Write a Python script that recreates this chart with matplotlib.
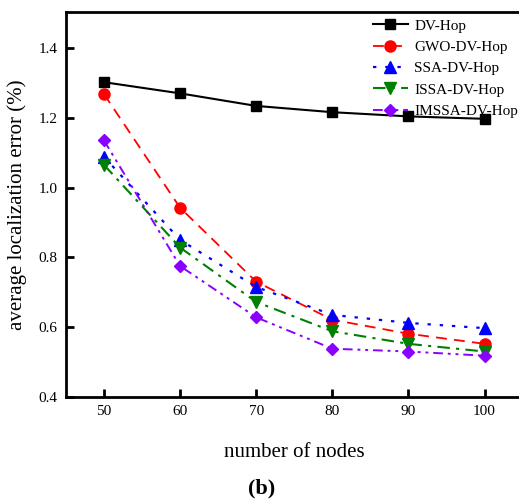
import numpy as np
import matplotlib.pyplot as plt

plt.rcParams['font.family'] = ['Liberation Serif', 'DejaVu Serif']

# Data
nodes = [50, 60, 70, 80, 90, 100]
dv_hop = [1.302, 1.270, 1.234, 1.216, 1.204, 1.197]
gwo_dv_hop = [1.268, 0.942, 0.730, 0.621, 0.581, 0.552]
ssa_dv_hop = [1.088, 0.850, 0.715, 0.635, 0.612, 0.597]
issa_dv_hop = [1.065, 0.828, 0.672, 0.588, 0.552, 0.530]
imssa_dv_hop = [1.135, 0.775, 0.628, 0.538, 0.530, 0.518]

fig = plt.figure(figsize=(5.19, 5.03), dpi=100)
ax = fig.add_axes([0.127, 0.211, 0.88, 0.765])

ax.plot(nodes, dv_hop, color='black', ls='-', marker='s', ms=7, lw=1.5, label='DV-Hop')
ax.plot(nodes, gwo_dv_hop, color='red', ls=(0, (6, 4)), marker='o', ms=8, lw=1.3, label='GWO-DV-Hop')
ax.plot(nodes, ssa_dv_hop, color='blue', ls=(0, (1.5, 4)), marker='^', ms=8, lw=1.6, label='SSA-DV-Hop')
ax.plot(nodes, issa_dv_hop, color='green', ls=(0, (6, 3, 1.5, 3)), marker='v', ms=8, lw=1.5, label='ISSA-DV-Hop')
ax.plot(nodes, imssa_dv_hop, color='#8a00ff', ls=(0, (5, 2.5, 1.5, 2.5, 1.5, 2.5)), marker='D', ms=6.5, lw=1.4, label='IMSSA-DV-Hop')

ax.set_xlim(45, 105)
ax.set_ylim(0.4, 1.503)
ax.set_xticks(nodes)
ax.set_yticks([0.4, 0.6, 0.8, 1.0, 1.2, 1.4])
ax.set_yticklabels(['0.4', '0.6', '0.8', '1.0', '1.2', '1.4'])
ax.tick_params(direction='in', width=2, length=6, labelsize=11, pad=6)
for s in ax.spines.values():
    s.set_linewidth(2)

ax.set_xlabel('number of nodes', fontsize=15, labelpad=18)
ax.set_ylabel('average localization error (%)', fontsize=15, labelpad=8)

leg = ax.legend(loc='upper left', frameon=False, fontsize=11, handlelength=2.3,
                borderaxespad=0, borderpad=0, labelspacing=0.5, handletextpad=0.4,
                bbox_to_anchor=(0.672, 0.982))

fig.text(0.505, 0.018, '(b)', fontsize=16, fontweight='bold', ha='center')

fig.savefig('out.png', dpi=100)
